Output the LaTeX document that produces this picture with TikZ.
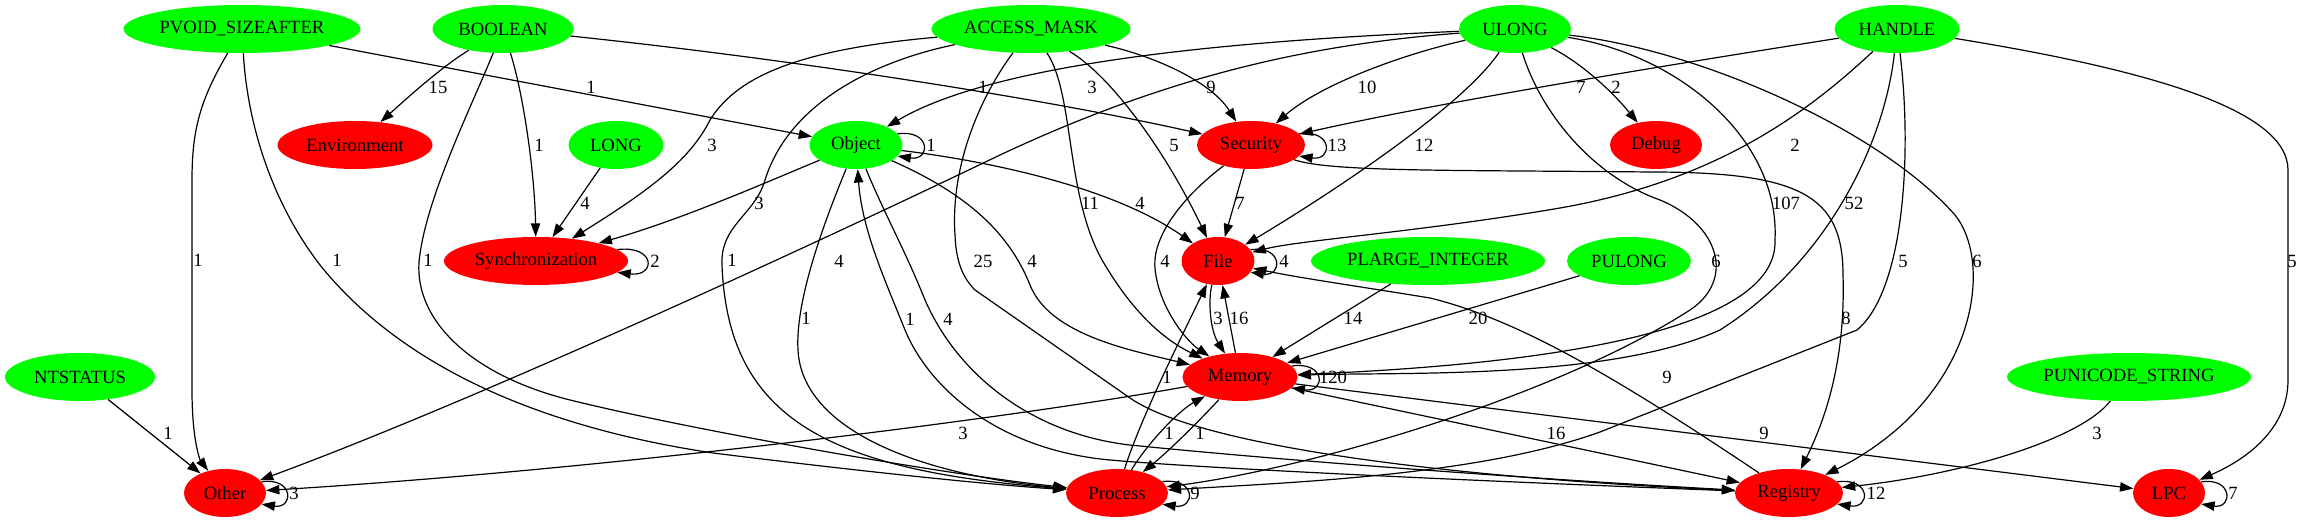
\documentclass[tikz,border=0pt]{standalone}
\usepackage{fontspec}
\setmainfont{Liberation Serif}
\usetikzlibrary{arrows.meta,shapes.geometric}
\definecolor{gvgreen}{RGB}{0,255,0}
\definecolor{gvred}{RGB}{255,0,0}
\begin{document}
\begin{tikzpicture}[x=0.75pt,y=-0.75pt,
  nd/.style={ellipse,draw=none,inner sep=0pt,minimum height=36pt,minimum width=#1*0.75pt,font=\fontsize{14}{16}\selectfont},
  gn/.style={nd=#1,fill=gvgreen},
  rn/.style={nd=#1,fill=gvred},
  edg/.style={draw=black,line width=0.9pt,-{Triangle[length=10pt,width=7pt]}},
  lbl/.style={font=\fontsize{14}{16}\selectfont,inner sep=0pt}]
\useasboundingbox (0,0) rectangle (2303,523);
% nodes
\node[gn=237] (pvoid) at (242,29) {PVOID\_SIZEAFTER};
\node[gn=141] (boolean) at (503,29) {BOOLEAN};
\node[gn=199] (amask) at (1031,29) {ACCESS\_MASK};
\node[gn=112] (ulong) at (1515,29) {ULONG};
\node[gn=125] (handle) at (1897,29) {HANDLE};
\node[rn=155] (env) at (355,145) {Environment};
\node[gn=95] (long) at (616,145) {LONG};
\node[gn=93] (object) at (856,145) {Object};
\node[rn=108] (security) at (1251,145) {Security};
\node[rn=92] (debug) at (1656,145) {Debug};
\node[rn=184] (sync) at (536,261) {Synchronization};
\node[rn=73] (file) at (1218,261) {File};
\node[gn=234] (plarge) at (1428,261) {PLARGE\_INTEGER};
\node[gn=124] (pulong) at (1629,261) {PULONG};
\node[gn=150] (ntstatus) at (80,377) {NTSTATUS};
\node[rn=115] (memory) at (1240,377) {Memory};
\node[gn=244] (punicode) at (2129,377) {PUNICODE\_STRING};
\node[rn=82] (other) at (225,493) {Other};
\node[rn=102] (process) at (1117,493) {Process};
\node[rn=108] (registry) at (1789,493) {Registry};
\node[rn=72] (lpc) at (2169,493) {LPC};
% PVOID_SIZEAFTER
\draw[edg] (pvoid) -- (object);
\draw[edg] (pvoid) .. controls (200,100) and (192,130) .. (192,180) -- (192,390) .. controls (192,440) and (200,460) .. (other);
\draw[edg] (pvoid) .. controls (247,120) and (270,200) .. (320,265) .. controls (390,352) and (513,423) .. (713,453) .. controls (850,470) and (980,484) .. (process);
% BOOLEAN
\draw[edg] (boolean) .. controls (440,68) and (405,100) .. (env);
\draw[edg] (boolean) .. controls (525,100) and (535,180) .. (sync);
\draw[edg] (boolean) .. controls (470,110) and (425,200) .. (419,262) .. controls (415,320) and (470,375) .. (570,400) .. controls (700,432) and (950,475) .. (process);
\draw[edg] (boolean) .. controls (800,60) and (1050,100) .. (security);
% ACCESS_MASK
\draw[edg] (amask) .. controls (790,50) and (735,80) .. (710,120) .. controls (690,160) and (650,190) .. (sync);
\draw[edg] (amask) .. controls (880,60) and (790,100) .. (765,180) .. controls (755,215) and (720,225) .. (722,265) .. controls (728,420) and (830,470) .. (process);
\draw[edg] (amask) .. controls (1150,55) and (1210,80) .. (security);
\draw[edg] (amask) .. controls (1110,75) and (1165,150) .. (file);
\draw[edg] (amask) .. controls (1075,95) and (1065,200) .. (1105,265) .. controls (1135,315) and (1165,340) .. (memory);
\draw[edg] (amask) .. controls (985,90) and (950,160) .. (955,235) .. controls (956,262) and (963,278) .. (975,290) -- (1130,398) .. controls (1190,440) and (1400,475) .. (registry);
% LONG
\draw[edg] (long) -- (sync);
% Object
\draw[edg] (object) .. controls (760,185) and (680,220) .. (sync);
\draw[edg] (object) .. controls (980,160) and (1110,185) .. (file);
\draw[edg] (object) .. controls (970,195) and (1010,235) .. (1030,285) .. controls (1050,335) and (1130,350) .. (memory);
\draw[edg] (object) .. controls (825,220) and (795,300) .. (798,350) .. controls (802,430) and (920,475) .. (process);
\draw[edg] (object) .. controls (885,215) and (905,250) .. (925,300) .. controls (960,380) and (1040,438) .. (1140,446) .. controls (1300,462) and (1550,480) .. (registry);
\draw[edg] (registry) .. controls (1450,480) and (1200,468) .. (1110,460) .. controls (1000,450) and (930,390) .. (905,330) .. controls (885,280) and (862,230) .. (object);
\draw[edg] (object.15) .. controls (931,129) and (931,161) .. (object.-15);
% ULONG
\draw[edg] (ulong) .. controls (1250,40) and (1000,60) .. (object);
\draw[edg] (ulong) .. controls (1300,45) and (1160,80) .. (1000,155) .. controls (750,275) and (450,410) .. (other);
\draw[edg] (ulong) .. controls (1400,55) and (1320,85) .. (security);
\draw[edg] (ulong) .. controls (1460,110) and (1320,200) .. (file);
\draw[edg] (ulong) .. controls (1585,65) and (1615,95) .. (debug);
\draw[edg] (ulong) .. controls (1680,55) and (1780,140) .. (1775,240) .. controls (1778,320) and (1600,362) .. (memory);
\draw[edg] (ulong) .. controls (1540,110) and (1590,175) .. (1660,200) .. controls (1720,225) and (1735,280) .. (1690,310) .. controls (1550,400) and (1300,470) .. (process);
\draw[edg] (ulong) .. controls (1700,50) and (1880,130) .. (1955,215) .. controls (1995,265) and (1975,400) .. (registry);
% HANDLE
\draw[edg] (handle) .. controls (1700,60) and (1450,100) .. (security);
\draw[edg] (handle) .. controls (1810,110) and (1720,180) .. (1560,208) .. controls (1420,232) and (1300,240) .. (file);
\draw[edg] (handle) .. controls (1885,140) and (1830,260) .. (1720,330) .. controls (1610,380) and (1400,372) .. (memory);
\draw[edg] (handle) .. controls (1912,150) and (1905,290) .. (1857,330) -- (1600,432) .. controls (1480,475) and (1300,482) .. (process);
\draw[edg] (handle) .. controls (2150,70) and (2288,110) .. (2288,170) -- (2288,380) .. controls (2288,430) and (2245,460) .. (lpc);
% Security
\draw[edg] (security) -- (file);
\draw[edg] (security) .. controls (1185,195) and (1152,235) .. (1155,268) .. controls (1158,305) and (1185,340) .. (memory);
\draw[edg] (security) .. controls (1330,172) and (1450,170) .. (1650,172) .. controls (1800,172) and (1843,195) .. (1843,275) .. controls (1846,370) and (1820,430) .. (registry);
\draw[edg] (security.13) .. controls (1333,129) and (1333,161) .. (security.-13);
% Synchronization loop
\draw[edg] (sync.8) .. controls (656,245) and (656,277) .. (sync.-8);
% File
\draw[edg] (file) .. controls (1208,300) and (1210,330) .. (memory);
\draw[edg] (file.19) .. controls (1283,245) and (1283,277) .. (file.-19);
% Memory
\draw[edg] (memory) -- (file);
\draw[edg] (memory) .. controls (1000,420) and (600,470) .. (other);
\draw[edg] (memory) .. controls (1200,420) and (1170,450) .. (process);
\draw[edg] (memory) -- (registry);
\draw[edg] (memory) -- (lpc);
\draw[edg] (memory.12) .. controls (1326,361) and (1326,393) .. (memory.-12);
% PLARGE, PULONG, PUNICODE, NTSTATUS
\draw[edg] (plarge) -- (memory);
\draw[edg] (pulong) -- (memory);
\draw[edg] (punicode) .. controls (2080,440) and (1960,475) .. (registry);
\draw[edg] (ntstatus) -- (other);
% Process
\draw[edg] (process) .. controls (1140,420) and (1180,340) .. (file);
\draw[edg] (process) .. controls (1150,440) and (1180,410) .. (memory);
\draw[edg] (process.14) .. controls (1196,477) and (1196,509) .. (process.-14);
% Registry
\draw[edg] (registry) .. controls (1620,380) and (1520,320) .. (1430,298) .. controls (1350,285) and (1300,278) .. (file);
\draw[edg] (registry.13) .. controls (1871,477) and (1871,509) .. (registry.-13);
% Other, LPC loops
\draw[edg] (other.17) .. controls (294,477) and (294,509) .. (other.-17);
\draw[edg] (lpc.19) .. controls (2233,477) and (2233,509) .. (lpc.-19);
% labels
\node[lbl] (l01) at (591,87) {1};
\node[lbl] (l02) at (198,260) {1};
\node[lbl] (l03) at (337,260) {1};
\node[lbl] (l04) at (438,87) {15};
\node[lbl] (l05) at (539,145) {1};
\node[lbl] (l06) at (428,260) {1};
\node[lbl] (l07) at (1092,87) {3};
\node[lbl] (l08) at (712,145) {3};
\node[lbl] (l09) at (732,260) {1};
\node[lbl] (l10) at (1211,87) {9};
\node[lbl] (l11) at (1174,145) {5};
\node[lbl] (l12) at (1090,203) {11};
\node[lbl] (l13) at (983,261) {25};
\node[lbl] (l14) at (585,203) {4};
\node[lbl] (l15) at (759,203) {3};
\node[lbl] (l16) at (1140,203) {4};
\node[lbl] (l17) at (1032,261) {4};
\node[lbl] (l18) at (806,318) {1};
\node[lbl] (l19) at (948,319) {4};
\node[lbl] (l20) at (910,319) {1};
\node[lbl] (l21) at (931,145) {1};
\node[lbl] (l22) at (983,87) {1};
\node[lbl] (l23) at (839,261) {4};
\node[lbl] (l24) at (1367,87) {10};
\node[lbl] (l25) at (1424,145) {12};
\node[lbl] (l26) at (1616,87) {2};
\node[lbl] (l27) at (1786,203) {107};
\node[lbl] (l28) at (1716,261) {6};
\node[lbl] (l29) at (1977,261) {6};
\node[lbl] (l30) at (1581,87) {7};
\node[lbl] (l31) at (1795,145) {2};
\node[lbl] (l32) at (1854,203) {52};
\node[lbl] (l33) at (1903,261) {5};
\node[lbl] (l34) at (2292,261) {5};
\node[lbl] (l35) at (1240,203) {7};
\node[lbl] (l36) at (1165,261) {4};
\node[lbl] (l37) at (1846,318) {8};
\node[lbl] (l38) at (1337,145) {13};
\node[lbl] (l39) at (655,261) {2};
\node[lbl] (l40) at (1284,261) {4};
\node[lbl] (l41) at (1218,318) {3};
\node[lbl] (l42) at (1239,318) {16};
\node[lbl] (l43) at (1353,318) {14};
\node[lbl] (l44) at (1478,318) {20};
\node[lbl] (l45) at (1167,377) {1};
\node[lbl] (l46) at (1667,377) {9};
\node[lbl] (l47) at (1333,377) {120};
\node[lbl] (l48) at (168,433) {1};
\node[lbl] (l49) at (963,433) {3};
\node[lbl] (l50) at (1169,433) {1};
\node[lbl] (l51) at (1200,433) {1};
\node[lbl] (l52) at (1556,433) {16};
\node[lbl] (l53) at (1764,433) {9};
\node[lbl] (l54) at (2097,433) {3};
\node[lbl] (l55) at (294,493) {3};
\node[lbl] (l56) at (1195,493) {9};
\node[lbl] (l57) at (1876,493) {12};
\node[lbl] (l58) at (2233,493) {7};
\end{tikzpicture}
\end{document}
